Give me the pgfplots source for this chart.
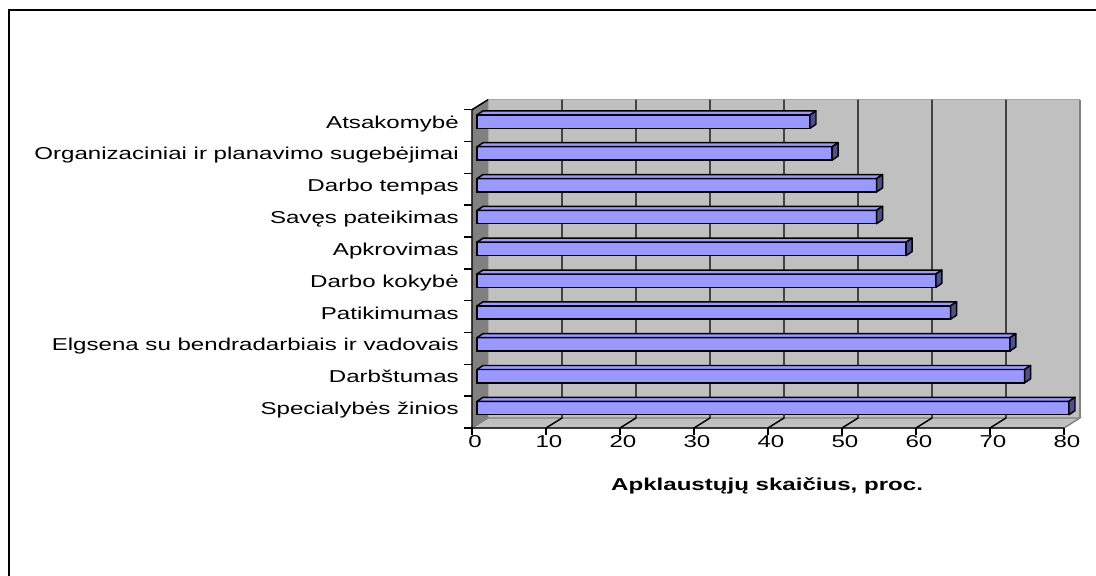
\documentclass[border=0pt]{standalone}
\usepackage{fontspec}
\setmainfont{Liberation Sans}[FakeStretch=1.4]
\usepackage{pgfplots}
\pgfplotsset{compat=1.18}
\usepackage{pgfplotstable}

\definecolor{barface}{HTML}{9999FF}
\definecolor{barside}{HTML}{4F4F8C}
\definecolor{wallgray}{HTML}{C0C0C0}
\definecolor{sidegray}{HTML}{808080}

% share of respondents (%), bottom category first
\pgfplotstableread{
idx val
0 80
1 74
2 72
3 64
4 62
5 58
6 54
7 54
8 48
9 45
}\ratings

\pgfdeclareplotmark{nothing}{}

\newcommand\yfl{-0.534}
\newcommand\ytp{9.466}

\begin{document}
\begin{tikzpicture}[font=\fontsize{12.9pt}{15pt}\selectfont,
  front/.style={shift={(-3.75pt,-2.25pt)}},
  back/.style={shift={(8.25pt,5.25pt)}}]
\useasboundingbox (0,0) rectangle (822pt,431.25pt);
\draw[line width=1.5pt] (6.75pt,-10pt) -- (6.75pt,423.75pt) -- (840pt,423.75pt);
\begin{axis}[
  at={(357.75pt,112.5pt)}, anchor=south west,
  x=5.55pt, y=23.87pt,
  xmin=0, xmax=80, ymin=-0.534, ymax=9.466,
  clip=false,
  axis line style={draw=none},
  tick style={draw=none},
  xtick={0,10,...,80},
  ytick={0,...,9},
  yticklabels={Specialybės žinios, Darbštumas, Elgsena su bendradarbiais ir vadovais,
    Patikimumas, Darbo kokybė, Apkrovimas, Savęs pateikimas, Darbo tempas,
    Organizaciniai ir planavimo sugebėjimai, Atsakomybė},
  /pgf/number format/assume math mode=true,
  tick label style={font=\fontsize{12.9pt}{15pt}\selectfont, inner sep=0pt},
  xticklabel style={anchor=base, xshift=-1.5pt, yshift=-16.5pt},
  yticklabel style={anchor=base east, xshift=-13.5pt, yshift=-4.9pt},
  xlabel={Apklaustųjų skaičius, proc.},
  xlabel style={at={(axis description cs:0.49,-0.205)}, anchor=base, inner sep=0pt,
    font=\fontsize{12.9pt}{15pt}\selectfont\bfseries},
]
% walls and floor
\fill[wallgray] ([back]axis cs:0,\yfl) rectangle ([back]axis cs:80,\ytp);
\draw[sidegray, line width=1.5pt] ([back]axis cs:80,\yfl) -- ([back]axis cs:80,\ytp);
\draw[gray!70, line width=0.8pt] ([back]axis cs:0,\ytp) -- ([back]axis cs:80,\ytp);
\filldraw[fill=wallgray, draw=gray, line width=0.8pt]
  ([front]axis cs:0,\yfl) -- ([front]axis cs:80,\yfl) -- ([back]axis cs:80,\yfl) -- ([back]axis cs:0,\yfl) -- cycle;
\filldraw[fill=sidegray, draw=gray, line width=0.6pt]
  ([front]axis cs:0,\yfl) -- ([front]axis cs:0,\ytp) -- ([back]axis cs:0,\ytp) -- ([back]axis cs:0,\yfl) -- cycle;
% gridlines on floor and back wall
\pgfplotsinvokeforeach{10,20,...,70}{
  \draw[black, line width=1.1pt] ([front]axis cs:#1,\yfl) -- ([back]axis cs:#1,\yfl) -- ([back]axis cs:#1,\ytp);
}
% bar tops and end caps
\addplot[scatter, only marks, mark=nothing,
  visualization depends on={\thisrow{val} \as \barval},
  scatter/@pre marker code/.code={
    \pgfmathsetmacro\Lbar{\barval*5.55}
    \pgfmathsetmacro\Lbarb{4.5-\Lbar}
    \draw[black, line width=1.1pt, line join=round, fill=barface]
      (-\Lbar pt,5pt) -- (0pt,5pt) -- (4.5pt,8pt) -- (\Lbarb pt,8pt) -- cycle;
    \draw[black, line width=1.1pt, line join=round, fill=barside]
      (0pt,-5pt) -- (0pt,5pt) -- (4.5pt,8pt) -- (4.5pt,-2pt) -- cycle;
  },
  scatter/@post marker code/.code={}]
  table[x=val, y=idx] {\ratings};
% bar fronts
\addplot[xbar, bar width=10pt, bar shift=0pt, fill=barface, draw=black, line width=1.1pt]
  table[x=val, y=idx] {\ratings};
% front axis lines and ticks
\draw[black, line width=1.1pt, line join=round] ([back]axis cs:0,\ytp) -- ([front]axis cs:0,\ytp) -- ([front]axis cs:0,\yfl) -- ([front]axis cs:80,\yfl);
\draw[gray, line width=0.8pt] ([front]axis cs:80,\yfl) -- ([back]axis cs:80,\yfl);
\pgfplotsinvokeforeach{0,10,...,80}{
  \draw[black, line width=1.1pt] ([front]axis cs:#1,\yfl) -- ([front, yshift=-5.5pt]axis cs:#1,\yfl);
}
\pgfplotsinvokeforeach{-0.534,0.466,1.466,2.466,3.466,4.466,5.466,6.466,7.466,8.466,9.466}{
  \draw[black, line width=1.1pt] ([front]axis cs:0,#1) -- ([front, xshift=-6pt]axis cs:0,#1);
}
\end{axis}
\end{tikzpicture}
\end{document}
